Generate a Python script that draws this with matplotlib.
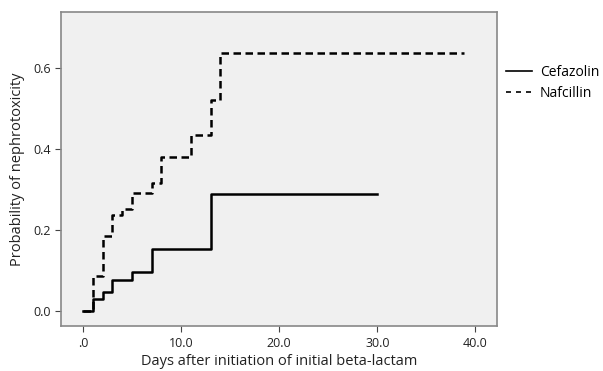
import matplotlib
matplotlib.use("Agg")
import matplotlib.pyplot as plt
from matplotlib.lines import Line2D

# Kaplan-Meier style cumulative probabilities
cef_days = [0, 1, 2, 3, 5, 7, 13, 30]
cef_prob = [0.0, 0.029, 0.047, 0.076, 0.097, 0.154, 0.288, 0.288]

naf_days = [0, 1, 2, 3, 4, 5, 7, 8, 11, 13, 14, 38.8]
naf_prob = [0.0, 0.086, 0.185, 0.236, 0.251, 0.290, 0.316, 0.380, 0.433, 0.520, 0.637, 0.637]

x_ticks = [0, 10, 20, 30, 40]
x_labels = [".0", "10.0", "20.0", "30.0", "40.0"]
y_ticks = [0.0, 0.2, 0.4, 0.6]
y_labels = ["0.0", "0.2", "0.4", "0.6"]

plt.rcParams['font.family'] = ['Open Sans', 'DejaVu Sans']

fig = plt.figure(figsize=(6.03, 3.71), dpi=100)
ax = fig.add_axes([0.1012, 0.1213, 0.7230, 0.8464])
ax.set_facecolor("#f0f0f0")

dash = (0, (3, 1.8))
ax.step(cef_days, cef_prob, where="post", color="black", lw=1.8, ls="-")
ax.step(naf_days, naf_prob, where="post", color="black", lw=1.8, ls=dash)

ax.set_xlim(-2.24, 42.2)
ax.set_ylim(-0.037, 0.737)
ax.set_xticks(x_ticks)
ax.set_xticklabels(x_labels)
ax.set_yticks(y_ticks)
ax.set_yticklabels(y_labels)
ax.tick_params(direction="out", length=4, color="#444444", labelsize=9, colors="#222222")
ax.tick_params(axis="x", pad=4)
for s in ax.spines.values():
    s.set_color("#888888")
    s.set_linewidth(1.2)

ax.set_xlabel("Days after initiation of initial beta-lactam", fontsize=10.5, color="#222222", labelpad=3)
ax.set_ylabel("Probability of nephrotoxicity", fontsize=10.5, color="#222222", labelpad=6)

handles = [Line2D([], [], color="black", lw=1.2, ls="-"),
           Line2D([], [], color="black", lw=1.2, ls=(0, (3, 3)))]
fig.legend(handles, ["Cefazolin", "Nafcillin"], loc="center left",
           bbox_to_anchor=(0.8392, 0.776), frameon=False, fontsize=10,
           borderpad=0, borderaxespad=0,
           handlelength=1.9, handletextpad=0.55, labelspacing=0.44)

fig.savefig("out.png", dpi=100, facecolor="white")
